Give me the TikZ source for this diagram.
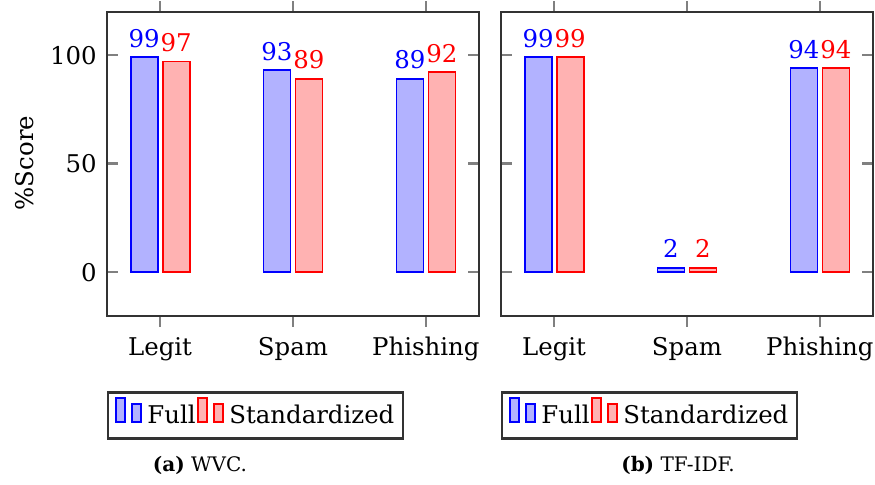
\documentclass[tikz,border=0pt]{standalone}
\usepackage{fontspec}
\setmainfont{DejaVu Serif}
\newcommand{\chartfont}{\fontsize{12.2}{14.5}\selectfont}
\newcommand{\capfont}{\fontsize{10}{12}\selectfont}
\tikzset{
  frame/.style={draw=black!80, line width=1.1},
  tickline/.style={draw=gray, line width=1.1},
  fullbar/.style={draw=blue, fill=blue!30, line width=0.9},
  stdbar/.style={draw=red, fill=red!30, line width=0.9},
  vallabel/.style={font=\chartfont, anchor=base, inner sep=0pt},
  ticklabel/.style={font=\chartfont, anchor=base east, inner sep=0pt},
  catlabel/.style={font=\chartfont, anchor=base, inner sep=0pt},
  legtext/.style={font=\chartfont, anchor=base west, inner sep=0pt},
  legbox/.style={draw=black!80, line width=1.1},
  captext/.style={font=\capfont, anchor=base, inner sep=0pt},
}
% one category: centre x, Full value, Standardized value, name prefix
\newcommand{\ybarpair}[4]{%
  \pgfmathsetmacro\yfull{272-2.17*#2}%
  \pgfmathsetmacro\ystd{272-2.17*#3}%
  \draw[fullbar] (#1-29.5,272) rectangle (#1-2.5,\yfull);
  \draw[stdbar] (#1+2.5,272) rectangle (#1+29.5,\ystd);
  \node[vallabel, text=blue] (#4f) at (#1-16,\yfull-10) {#2};
  \node[vallabel, text=red] (#4s) at (#1+16,\ystd-10) {#3};
}
% axis frame with ticks: left x, right x
\newcommand{\plotframe}[2]{%
  \foreach \ty in {55,163.5,272} {
    \draw[tickline] (#1,\ty) -- (#1+11,\ty);
    \draw[tickline] (#2-11,\ty) -- (#2,\ty);
  }
  \foreach \k in {0,1,2} {
    \pgfmathsetmacro\tx{#1+53.1+132.9*\k}
    \draw[tickline] (\tx,12) -- (\tx,1);
    \draw[tickline] (\tx,316) -- (\tx,327);
  }
  \draw[frame] (#1,12) rectangle (#2,316);
}
% legend: left x of box, name prefix
\newcommand{\chartlegend}[2]{%
  \draw[legbox] (#1,392.5) rectangle (#1+295,438.5);
  \draw[fullbar] (#1+8,398) rectangle (#1+17,422);
  \draw[fullbar] (#1+24,404) rectangle (#1+33,422);
  \node[legtext] (#2full) at (#1+39,423) {Full};
  \draw[stdbar] (#1+90,398) rectangle (#1+99,422);
  \draw[stdbar] (#1+106,404) rectangle (#1+115,422);
  \node[legtext] (#2std) at (#1+121,423) {Standardized};
}
\begin{document}
\begin{tikzpicture}[x=0.5pt, y=-0.5pt]
  \useasboundingbox (0,0) rectangle (875,484);

  % ---- (a) WVC ----
  \plotframe{107}{479}
  \ybarpair{160.1}{99}{97}{wl}
  \ybarpair{293}{93}{89}{ws}
  \ybarpair{425.9}{89}{92}{wp}
  \node[ticklabel] (t100) at (97,64) {100};
  \node[ticklabel] (t50) at (97,172.5) {50};
  \node[ticklabel] (t0) at (97,281) {0};
  \node[font=\chartfont, rotate=90, anchor=base, inner sep=0pt] (ylab) at (33,163) {\%Score};
  \node[catlabel] (wcl) at (160.1,355) {Legit};
  \node[catlabel] (wcs) at (293,355) {Spam};
  \node[catlabel] (wcp) at (425.9,355) {Phishing};
  \chartlegend{108}{wleg}
  \node[captext] (capa) at (200,471) {\textbf{(a)} WVC.};

  % ---- (b) TF-IDF ----
  \plotframe{501}{873}
  \ybarpair{554.1}{99}{99}{tl}
  \ybarpair{687}{2}{2}{ts}
  \ybarpair{819.9}{94}{94}{tp}
  \node[catlabel] (tcl) at (554.1,355) {Legit};
  \node[catlabel] (tcs) at (687,355) {Spam};
  \node[catlabel] (tcp) at (819.9,355) {Phishing};
  \chartlegend{502}{tleg}
  \node[captext] (capb) at (678,471) {\textbf{(b)} TF-IDF.};
\end{tikzpicture}
\end{document}
